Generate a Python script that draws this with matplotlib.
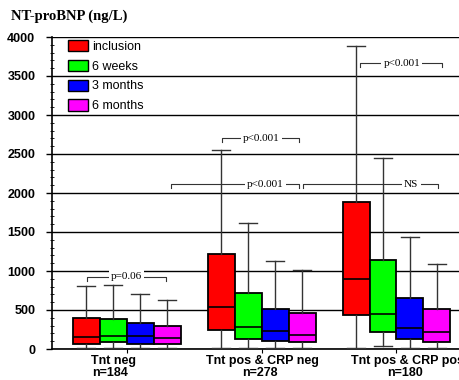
import matplotlib
matplotlib.use("Agg")
import matplotlib.pyplot as plt
from matplotlib.patches import Patch
from matplotlib.transforms import blended_transform_factory

# groups and series
group_names = ["Tnt neg", "Tnt pos & CRP neg", "Tnt pos & CRP pos"]
group_n = ["n=184", "n=278", "n=180"]
series = ["inclusion", "6 weeks", "3 months", "6 months"]
colors = ["#FF0000", "#00FF00", "#0000FF", "#FF00FF"]

# box statistics per series, one value per group
whis_lo = {
    "inclusion": [10, 15, 15],
    "6 weeks": [10, 10, 40],
    "3 months": [10, 10, 10],
    "6 months": [10, 10, 10],
}
q1 = {
    "inclusion": [65, 245, 435],
    "6 weeks": [90, 130, 220],
    "3 months": [65, 100, 130],
    "6 months": [60, 90, 90],
}
med = {
    "inclusion": [150, 540, 900],
    "6 weeks": [170, 285, 450],
    "3 months": [165, 230, 270],
    "6 months": [140, 180, 220],
}
q3 = {
    "inclusion": [400, 1220, 1885],
    "6 weeks": [390, 720, 1140],
    "3 months": [330, 510, 655],
    "6 months": [300, 460, 510],
}
whis_hi = {
    "inclusion": [810, 2550, 3885],
    "6 weeks": [815, 1620, 2450],
    "3 months": [700, 1130, 1435],
    "6 months": [630, 1010, 1090],
}

# significance brackets: (x0, x1, y, label, label_x)
brackets = [
    (-0.29, 0.29, 925, "p=0.06", 0.0),
    (0.71, 1.28, 2705, "p<0.001", 1.0),
    (0.33, 1.28, 2115, "p<0.001", 1.03),
    (1.31, 2.31, 2115, "NS", 2.11),
    (1.73, 2.34, 3665, "p<0.001", 2.04),
]

SANS = "Liberation Sans"
SERIF = "Liberation Serif"

fig = plt.figure(figsize=(4.6, 3.8), dpi=100)
ax = fig.add_axes([52 / 460, 1 - 349 / 380, (459 - 52) / 460, (349 - 37) / 380])

offsets = [-0.3, -0.1, 0.1, 0.3]
for k, s in enumerate(series):
    stats = []
    for g in range(len(group_names)):
        stats.append(dict(whislo=whis_lo[s][g], q1=q1[s][g], med=med[s][g],
                          q3=q3[s][g], whishi=whis_hi[s][g], fliers=[]))
    pos = [g + offsets[k] for g in range(len(group_names))]
    ax.bxp(stats, positions=pos, widths=0.2, patch_artist=True, showfliers=False,
           capwidths=0.13,
           boxprops=dict(facecolor=colors[k], edgecolor="black", linewidth=1.3),
           medianprops=dict(color="black", linewidth=1.2),
           whiskerprops=dict(color="#333333", linewidth=1.0),
           capprops=dict(color="#333333", linewidth=1.0),
           zorder=3)

for x0, x1, y, lab, lx in brackets:
    ax.plot([x0, x0, x1, x1], [y - 50, y, y, y - 50], color="#333333", lw=0.8, zorder=4)
    ax.text(lx, y, lab, ha="center", va="center", fontsize=8, family=SERIF,
            bbox=dict(facecolor="white", edgecolor="none", pad=1.5), zorder=5)

ax.set_xlim(-0.552, 2.463)
ax.set_ylim(0, 4000)
ax.set_yticks(range(0, 4001, 500))
ax.set_yticks(range(0, 4001, 100), minor=True)
ax.yaxis.grid(True, color="black", linewidth=1.0, zorder=0)
ax.set_axisbelow(True)
ax.set_xticks(range(len(group_names)))
ax.set_xticklabels([])
for lbl in ax.get_yticklabels():
    lbl.set_fontweight("bold")
    lbl.set_family(SANS)
    lbl.set_fontsize(9)
ax.tick_params(axis="y", which="major", length=4, width=1, pad=8)
ax.tick_params(axis="y", which="minor", length=3, direction="inout")
ax.tick_params(axis="x", length=3)
ax.spines["top"].set_visible(False)
ax.spines["right"].set_visible(False)
ax.spines["left"].set_linewidth(1.2)
ax.spines["bottom"].set_linewidth(1.2)

# group labels (slightly off the tick centres, as in the original)
label_x = [-0.1, 1.01, 2.08]
tr = blended_transform_factory(ax.transData, fig.transFigure)
for g in range(len(group_names)):
    ax.text(label_x[g], 1 - 361 / 380, group_names[g], transform=tr, ha="center",
            va="center", fontsize=9, fontweight="bold", family=SANS, clip_on=False)
    ax.text(label_x[g] - 0.02, 1 - 373.5 / 380, group_n[g], transform=tr, ha="center",
            va="center", fontsize=9, fontweight="bold", family=SANS, clip_on=False)

handles = [Patch(facecolor=c, edgecolor="black", label=s) for c, s in zip(colors, series)]
ax.legend(handles=handles, loc="upper left", bbox_to_anchor=(0.039, 0.99), frameon=False,
          borderpad=0, borderaxespad=0, handlelength=1.6, handleheight=1.0,
          labelspacing=0.55, handletextpad=0.35, prop=dict(family=SANS, size=9))

fig.text(11 / 460, 1 - 16 / 380, "NT-proBNP (ng/L)", ha="left", va="center",
         fontsize=10.5, fontweight="bold", family=SERIF)

fig.savefig("out.png", dpi=100)
